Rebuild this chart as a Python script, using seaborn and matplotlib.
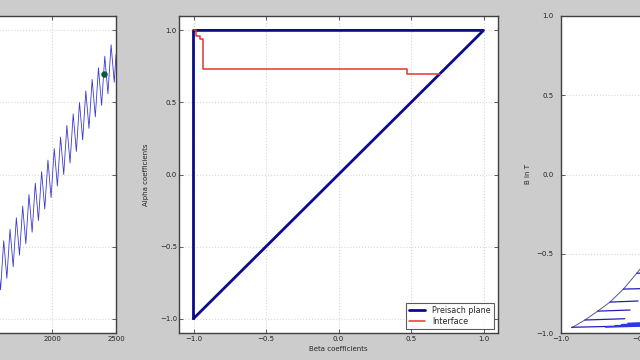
import matplotlib
matplotlib.use("Agg")
import matplotlib.pyplot as plt
import seaborn as sns

# input signal (left panel): peaks / troughs
input_t = [1521.0, 1545.75, 1570.5, 1595.25, 1620.0, 1644.75, 1669.5, 1694.25,
           1719.0, 1743.75, 1768.5, 1793.25, 1818.0, 1842.75, 1867.5, 1892.25,
           1917.0, 1941.75, 1966.5, 1991.25, 2016.0, 2040.75, 2065.5, 2090.25,
           2115.0, 2139.75, 2164.5, 2189.25, 2214.0, 2238.75, 2263.5, 2288.25,
           2313.0, 2337.75, 2362.5, 2387.25, 2412.0, 2436.75, 2461.5, 2486.25,
           2500.0]
input_h = [-0.62, -0.88, -0.54, -0.80, -0.46, -0.72, -0.38, -0.64,
           -0.30, -0.56, -0.22, -0.48, -0.14, -0.40, -0.06, -0.32,
           0.02, -0.24, 0.10, -0.16, 0.18, -0.08, 0.26, 0.00,
           0.34, 0.08, 0.42, 0.16, 0.50, 0.24, 0.58, 0.32,
           0.66, 0.40, 0.74, 0.48, 0.82, 0.56, 0.90, 0.64,
           0.83]
current_t = [2404]
current_h = [0.70]

# Preisach plane triangle and interface staircase
plane_beta = [-1.0, -1.0, 1.0, -1.0]
plane_alpha = [-1.0, 1.0, 1.0, -1.0]
iface_beta = [-1.0, -0.985, -0.985, -0.955, -0.955, -0.935, -0.935, 0.47, 0.47, 0.70]
iface_alpha = [1.0, 1.0, 0.96, 0.96, 0.94, 0.94, 0.735, 0.735, 0.70, 0.70]

# B-H curve (right panel, only its left part is visible)
env_h = [-0.933, -0.850, -0.770, -0.693, -0.609, -0.525, -0.45]
env_b = [-0.967, -0.918, -0.862, -0.805, -0.723, -0.623, -0.53]
loop_h0 = [-0.933, -0.850, -0.770, -0.693, -0.609, -0.525]
loop_h1 = [-0.35, -0.600, -0.567, -0.517, -0.30, -0.25]
loop_b0 = [-0.964, -0.918, -0.862, -0.805, -0.723, -0.623]
loop_b1 = [-0.950, -0.910, -0.855, -0.798, -0.715, -0.615]
bundle_h0 = [-0.72, -0.66, -0.62, -0.58]
bundle_h1 = [-0.30, -0.30, -0.30, -0.30]
bundle_b0 = [-0.962, -0.955, -0.948, -0.940]
bundle_b1 = [-0.950, -0.943, -0.936, -0.928]

sns.set_theme(style="whitegrid", rc={
    "figure.facecolor": "#cccccc",
    "axes.facecolor": "white",
    "axes.edgecolor": "#404040",
    "axes.linewidth": 1.0,
    "grid.color": "#d8d8d8",
    "grid.linestyle": ":",
    "grid.linewidth": 0.8,
    "xtick.direction": "in",
    "ytick.direction": "in",
    "xtick.top": True,
    "ytick.right": True,
    "xtick.bottom": True,
    "ytick.left": True,
    "xtick.major.size": 3,
    "ytick.major.size": 3,
    "xtick.major.width": 0.5,
    "ytick.major.width": 0.5,
    "xtick.major.pad": 2,
    "ytick.major.pad": 1.5,
    "xtick.labelsize": 5,
    "ytick.labelsize": 5,
    "axes.labelsize": 5,
    "xtick.color": "#222222",
    "ytick.color": "#222222",
})
plt.rcParams["font.family"] = ["DejaVu Sans"]

fig = plt.figure(figsize=(6.4, 3.6), dpi=100)
W, H = 640, 360
top, bottom = 16, 333
aw = 319


def make_ax(left_px):
    return fig.add_axes([left_px / W, (H - bottom) / H, aw / W, (bottom - top) / H])


# left panel: input over time
ax1 = make_ax(-203)
sns.lineplot(x=input_t, y=input_h, ax=ax1, sort=False, estimator=None,
             color="#3a3ad6", linewidth=0.6)
sns.scatterplot(x=current_t, y=current_h, ax=ax1, color="#0a5a3a", s=18,
                edgecolor="#0a5a3a", zorder=5)
ax1.set_xlim(0, 2500)
ax1.set_ylim(-1.1, 1.1)
ax1.set_xticks([2000, 2500])
ax1.set_yticks([-1.0, -0.5, 0.0, 0.5, 1.0])
ax1.set_yticklabels([])

# middle panel: Preisach plane
ax2 = make_ax(179)
sns.lineplot(x=plane_beta, y=plane_alpha, ax=ax2, sort=False, estimator=None,
             color="#0b0b8c", linewidth=2.0, label="Preisach plane")
sns.lineplot(x=iface_beta, y=iface_alpha, ax=ax2, sort=False, estimator=None,
             color="#e8332e", linewidth=1.1, label="Interface")
ax2.set_xlim(-1.1, 1.1)
ax2.set_ylim(-1.1, 1.1)
ax2.set_xticks([-1.0, -0.5, 0.0, 0.5, 1.0])
ax2.set_yticks([-1.0, -0.5, 0.0, 0.5, 1.0])
ax2.set_xlabel("Beta coefficients", labelpad=3)
ax2.set_ylabel("Alpha coefficients", labelpad=8)
leg = ax2.legend(loc="lower right", fontsize=5.8, frameon=True, fancybox=False,
                 borderaxespad=0.5, handlelength=2.0, borderpad=0.4,
                 labelspacing=0.25, handletextpad=0.9)
leg.get_frame().set_edgecolor("#333333")
leg.get_frame().set_linewidth(0.8)

# right panel: B-H
ax3 = make_ax(561)
sns.lineplot(x=env_h, y=env_b, ax=ax3, sort=False, estimator=None,
             color="#55559a", linewidth=0.7)
for h0, h1, b0, b1 in zip(loop_h0, loop_h1, loop_b0, loop_b1):
    sns.lineplot(x=[h0, h1], y=[b0, b1], ax=ax3, sort=False, estimator=None,
                 color="#2020b0", linewidth=0.9)
for h0, h1, b0, b1 in zip(bundle_h0, bundle_h1, bundle_b0, bundle_b1):
    sns.lineplot(x=[h0, h1], y=[b0, b1], ax=ax3, sort=False, estimator=None,
                 color="#2a3ae0", linewidth=1.2)
ax3.set_xlim(-1.0, 1.0)
ax3.set_ylim(-1.0, 1.0)
ax3.set_xticks([-1.0, -0.5, 0.0, 0.5, 1.0])
ax3.set_yticks([-1.0, -0.5, 0.0, 0.5, 1.0])
ax3.tick_params(axis="y", pad=5.5)
ax3.set_ylabel("B in T", labelpad=4)

fig.savefig("out.png", dpi=100, facecolor=fig.get_facecolor())
